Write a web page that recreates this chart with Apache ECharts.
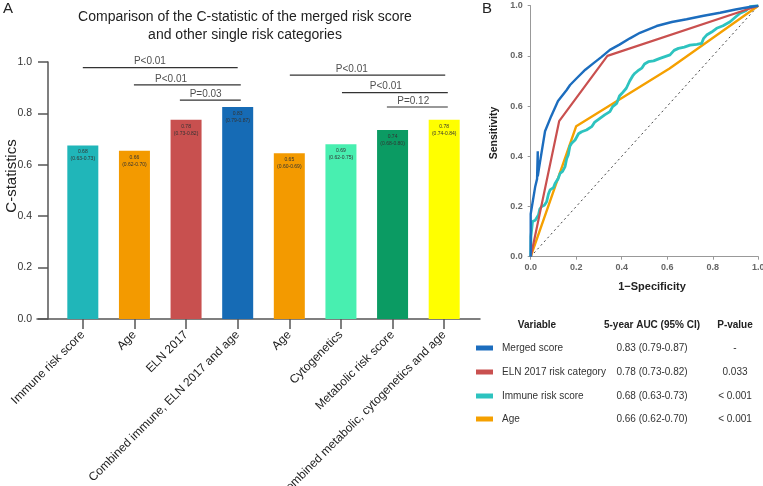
<!DOCTYPE html>
<html>
<head>
<meta charset="utf-8">
<script src="https://cdn.jsdelivr.net/npm/echarts@6/dist/echarts.min.js"></script>
<style>html,body{margin:0;padding:0;background:#fff}#c{width:763px;height:486px}</style>
</head>
<body>
<div id="c"></div>
<script>
// ---------- Panel A data ----------
const barCategories = ['Immune risk score', 'Age', 'ELN 2017', 'Combined immune, ELN 2017 and age', 'Age', 'Cytogenetics', 'Metabolic risk score', 'Combined metabolic, cytogenetics and age'];
const barValues = [0.675, 0.655, 0.775, 0.825, 0.645, 0.68, 0.735, 0.775];
const barLabels = ['0.68\n(0.63-0.73)', '0.66\n(0.62-0.70)', '0.78\n(0.73-0.82)', '0.83\n(0.79-0.87)', '0.65\n(0.60-0.69)', '0.69\n(0.62-0.75)', '0.74\n(0.68-0.80)', '0.78\n(0.74-0.84)'];
const barColors = ['#20B6B9', '#F39A00', '#C8504F', '#166BB5', '#F39A00', '#48EFB0', '#0B9B63', '#FFFF00'];
const yTicksA = [0, 0.2, 0.4, 0.6, 0.8, 1.0];
// significance brackets
const bracketStart = [0, 0.99, 1.88, 4.01, 5.02, 5.89];
const bracketEnd = [3.0, 3.06, 3.06, 7.02, 7.07, 7.07];
const bracketY = [0.978, 0.911, 0.852, 0.949, 0.881, 0.825];
const bracketText = ['P<0.01', 'P<0.01', 'P=0.03', 'P<0.01', 'P<0.01', 'P=0.12'];
const bracketTextX = [1.30, 1.71, 2.38, 5.21, 5.87, 6.40];

// ---------- Panel B data ----------
const rocMerged = [[0,0],[0,0.17],[0.02,0.28],[0.028,0.31],[0.031,0.42],[0.031,0.32],[0.036,0.35],[0.063,0.50],[0.09,0.56],[0.12,0.62],[0.158,0.664],[0.173,0.684],[0.202,0.711],[0.24,0.745],[0.275,0.770],[0.31,0.795],[0.348,0.824],[0.39,0.845],[0.436,0.870],[0.48,0.892],[0.553,0.919],[0.62,0.935],[0.685,0.946],[0.76,0.96],[0.832,0.972],[0.9,0.985],[0.949,0.993],[1,1]];
const rocEln = [[0,0],[0.125,0.54],[0.337,0.80],[1,1]];
const rocImmune = [[0,0],[0.001,0.08],[0.008,0.14],[0.02,0.145],[0.034,0.166],[0.04,0.19],[0.048,0.2],[0.06,0.205],[0.07,0.219],[0.078,0.25],[0.085,0.266],[0.1,0.275],[0.107,0.292],[0.12,0.31],[0.129,0.332],[0.14,0.34],[0.151,0.359],[0.158,0.39],[0.165,0.405],[0.172,0.44],[0.18,0.452],[0.195,0.465],[0.21,0.49],[0.224,0.498],[0.245,0.505],[0.268,0.518],[0.28,0.535],[0.304,0.551],[0.325,0.565],[0.348,0.578],[0.36,0.598],[0.378,0.611],[0.39,0.64],[0.4,0.65],[0.42,0.671],[0.435,0.70],[0.448,0.72],[0.458,0.731],[0.47,0.74],[0.488,0.751],[0.5,0.768],[0.517,0.777],[0.54,0.78],[0.568,0.79],[0.59,0.797],[0.612,0.804],[0.63,0.822],[0.649,0.830],[0.675,0.835],[0.70,0.843],[0.73,0.846],[0.751,0.85],[0.76,0.87],[0.773,0.883],[0.795,0.895],[0.817,0.91],[0.845,0.92],[0.876,0.936],[0.9,0.955],[0.92,0.97],[0.945,0.98],[0.963,0.996],[1,1]];
const rocAge = [[0,0],[0.2,0.52],[0.61,0.75],[1,1]];
const rocDiagonal = [[0,0],[1,1]];
const rocColors = ['#1C6DBE', '#C9504F', '#2DC3BF', '#F5A000'];
const tableHeaders = ['Variable', '5-year AUC (95% CI)', 'P-value'];
const tableNames = ['Merged score', 'ELN 2017 risk category', 'Immune risk score', 'Age'];
const tableAuc = ['0.83 (0.79-0.87)', '0.78 (0.73-0.82)', '0.68 (0.63-0.73)', '0.66 (0.62-0.70)'];
const tableP = ['-', '0.033', '< 0.001', '< 0.001'];

const chart = echarts.init(document.getElementById('c'), null, {renderer: 'canvas'});
const FONT = 'Liberation Sans, Arial, sans-serif';

const series = [];
// bars
series.push({
  type: 'bar', xAxisIndex: 0, yAxisIndex: 0, barWidth: 31,
  data: barValues.map((v, i) => ({value: v, itemStyle: {color: barColors[i]}})),
  label: {show: true, position: 'insideTop', distance: 3, fontSize: 5, lineHeight: 7, color: '#333', fontFamily: FONT,
    formatter: p => barLabels[p.dataIndex]},
  z: 2
});
// brackets
bracketStart.forEach((s, i) => {
  series.push({type: 'line', xAxisIndex: 1, yAxisIndex: 0, data: [[s, bracketY[i]], [bracketEnd[i], bracketY[i]]],
    symbol: 'none', lineStyle: {color: '#333', width: 1.2}, silent: true, z: 3});
});
series.push({type: 'scatter', xAxisIndex: 1, yAxisIndex: 0, symbolSize: 0,
  data: bracketTextX.map((x, i) => [x, bracketY[i]]),
  label: {show: true, position: 'top', distance: 1, fontSize: 10, color: '#222', fontFamily: FONT,
    formatter: p => bracketText[p.dataIndex]}, z: 4});
// ROC
const rocSets = [rocMerged, rocEln, rocImmune, rocAge];
const rocWidths = [2.4, 2.2, 2.8, 2.4];
series.push({type: 'line', xAxisIndex: 3, yAxisIndex: 2, data: rocDiagonal, symbol: 'none',
  lineStyle: {color: '#444', width: 1, type: [2, 3]}, z: 1});
[3, 2, 1, 0].forEach(k => {
  series.push({type: 'line', xAxisIndex: 3, yAxisIndex: 2, data: rocSets[k], symbol: 'none',
    lineStyle: {color: rocColors[k], width: rocWidths[k]}, z: 2 + (3 - k)});
});

// table graphics
const graphic = [];
graphic.push({type: 'text', left: 3, top: 1, style: {text: 'A', font: '15px ' + FONT, fill: '#222'}});
graphic.push({type: 'text', left: 482, top: 1, style: {text: 'B', font: '15px ' + FONT, fill: '#222'}});
graphic.push({type: 'text', x: 245, y: 26, style: {text: 'Comparison of the C-statistic of the merged risk score\nand other single risk categories',
  font: '14px ' + FONT, fill: '#222', textAlign: 'center', textVerticalAlign: 'middle', lineHeight: 18}});
graphic.push({type: 'text', x: 12, y: 176, rotation: Math.PI / 2, style: {text: 'C-statistics', font: '15px ' + FONT, fill: '#222', textAlign: 'center', textVerticalAlign: 'middle'}});
graphic.push({type: 'text', x: 494, y: 133, rotation: Math.PI / 2, style: {text: 'Sensitivity', font: 'bold 10.5px ' + FONT, fill: '#222', textAlign: 'center', textVerticalAlign: 'middle'}});
graphic.push({type: 'text', x: 652, y: 287, style: {text: '1\u2212Specificity', font: 'bold 11px ' + FONT, fill: '#222', textAlign: 'center', textVerticalAlign: 'middle'}});
const headerX = [537, 652, 735];
tableHeaders.forEach((h, i) => graphic.push({type: 'text', x: headerX[i], y: 325,
  style: {text: h, font: 'bold 10px ' + FONT, fill: '#222', textAlign: 'center', textVerticalAlign: 'middle'}}));
const rowY = [348, 372, 396, 419];
tableNames.forEach((n, i) => {
  graphic.push({type: 'rect', shape: {x: 476, y: rowY[i] - 2.5, width: 17, height: 5}, style: {fill: rocColors[i]}});
  graphic.push({type: 'text', x: 502, y: rowY[i], style: {text: n, font: '10px ' + FONT, fill: '#333', textAlign: 'left', textVerticalAlign: 'middle'}});
  graphic.push({type: 'text', x: 652, y: rowY[i], style: {text: tableAuc[i], font: '10px ' + FONT, fill: '#333', textAlign: 'center', textVerticalAlign: 'middle'}});
  graphic.push({type: 'text', x: 735, y: rowY[i], style: {text: tableP[i], font: '10px ' + FONT, fill: '#333', textAlign: 'center', textVerticalAlign: 'middle'}});
});

const option = {
  animation: false,
  backgroundColor: '#fff',
  textStyle: {fontFamily: FONT},
  grid: [
    {left: 57, top: 62, width: 413, height: 257, outerBoundsMode: 'none', containLabel: false},   // bars
    {left: 37, top: 62, width: 443, height: 257, outerBoundsMode: 'none', containLabel: false},   // long x axis line
    {left: 530.7, top: 5.7, width: 227.6, height: 251, outerBoundsMode: 'none', containLabel: false} // ROC
  ],
  xAxis: [
    {gridIndex: 0, type: 'category', data: barCategories,
      axisLine: {show: false}, axisTick: {show: true, alignWithLabel: true, length: 10, lineStyle: {color: '#555', width: 1.5}},
      axisLabel: {rotate: 45, fontSize: 12, color: '#222', margin: 14, interval: 0, fontFamily: FONT}},
    {gridIndex: 0, type: 'value', min: -0.5, max: 7.5, show: false},
    {gridIndex: 1, type: 'value', min: 0, max: 1, axisLine: {show: true, onZero: false, lineStyle: {color: '#555', width: 1.5}},
      axisTick: {show: false}, axisLabel: {show: false}, splitLine: {show: false}},
    {gridIndex: 2, type: 'value', min: 0, max: 1, interval: 0.2,
      axisLine: {show: true, onZero: false, lineStyle: {color: '#999', width: 1}},
      axisTick: {show: true, length: 3, lineStyle: {color: '#999'}},
      axisLabel: {fontSize: 9, fontWeight: 'bold', color: '#666', margin: 6, formatter: v => v.toFixed(1)},
      splitLine: {show: false}}
  ],
  yAxis: [
    {gridIndex: 0, type: 'value', min: 0, max: 1, interval: 0.2, offset: 9,
      axisLine: {show: true, onZero: false, lineStyle: {color: '#555', width: 1.5}},
      axisTick: {show: true, length: 10, lineStyle: {color: '#555', width: 1.5}},
      axisLabel: {fontSize: 10.5, color: '#333', margin: 16, fontFamily: FONT, formatter: v => v.toFixed(1)},
      splitLine: {show: false}},
    {gridIndex: 1, type: 'value', min: 0, max: 1, show: false},
    {gridIndex: 2, type: 'value', min: 0, max: 1, interval: 0.2,
      axisLine: {show: true, onZero: false, lineStyle: {color: '#999', width: 1}},
      axisTick: {show: true, length: 3, lineStyle: {color: '#999'}},
      axisLabel: {fontSize: 9, fontWeight: 'bold', color: '#666', margin: 8, formatter: v => v.toFixed(1)},
      splitLine: {show: false}}
  ],
  series: series,
  graphic: graphic
};
chart.setOption(option);
</script>
</body>
</html>
